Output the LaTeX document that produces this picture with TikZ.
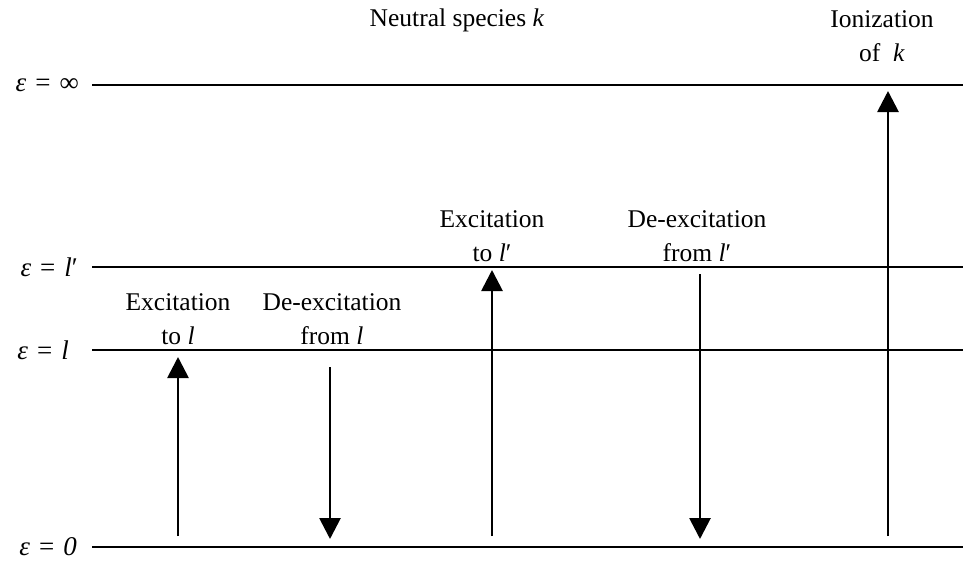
\documentclass[tikz,border=0pt]{standalone}
\usepackage{fontspec}
\setmainfont{Liberation Serif}
\usetikzlibrary{arrows.meta}
\begin{document}
\begin{tikzpicture}[x=1pt,y=-1pt,
  level/.style={line width=2.8pt},
  trans/.style={line width=2.8pt,-{Triangle[width=21pt,length=21pt]}},
  lbl/.style={font=\fontsize{25.5}{34}\selectfont,align=center,inner sep=0pt},
  lvl/.style={font=\fontsize{27}{30}\selectfont,anchor=east,inner sep=0pt}]
\useasboundingbox (0,0) rectangle (964,562);
% levels
\coordinate (infL) at (92,85);  \coordinate (infR) at (963,85);
\coordinate (lpL) at (92,267);  \coordinate (lpR) at (963,267);
\coordinate (lL) at (92,350);   \coordinate (lR) at (963,350);
\coordinate (zL) at (92,547);   \coordinate (zR) at (963,547);
\draw[level] (infL) -- (infR);
\draw[level] (lpL) -- (lpR);
\draw[level] (lL) -- (lR);
\draw[level] (zL) -- (zR);
\node[lvl] (tinf) at (79,85) {\textit{ε}\,\,=\,\,∞};
\node[lvl] (tlp) at (78,267) {\textit{ε}\,\,=\,\,\textit{l}′};
\node[lvl] (tl) at (69,350) {\textit{ε}\,\,=\,\,\textit{l}};
\node[lvl] (tz) at (77,547) {\textit{ε}\,\,=\,\,\textit{0}};
% transitions
\coordinate (a1s) at (178,536); \coordinate (a1e) at (178,357);
\coordinate (a2s) at (330,367); \coordinate (a2e) at (330,539);
\coordinate (a3s) at (492,536); \coordinate (a3e) at (492,270);
\coordinate (a4s) at (700,274); \coordinate (a4e) at (700,539);
\coordinate (a5s) at (888,536); \coordinate (a5e) at (888,91);
\draw[trans] (a1s) -- (a1e);
\draw[trans] (a2s) -- (a2e);
\draw[trans] (a3s) -- (a3e);
\draw[trans] (a4s) -- (a4e);
\draw[trans] (a5s) -- (a5e);
% labels
\node[lbl] (title) at (457,20) {Neutral species \textit{k}};
\node[lbl] (ion) at (882,36) {Ionization\\of \ \textit{k}};
\node[lbl] (ex1) at (178,319) {Excitation\\to \textit{l}};
\node[lbl] (de1) at (332,319) {De-excitation\\from \textit{l}};
\node[lbl] (ex2) at (492,236) {Excitation\\to \textit{l}′};
\node[lbl] (de2) at (697,236) {De-excitation\\from \textit{l}′};
\end{tikzpicture}
\end{document}
